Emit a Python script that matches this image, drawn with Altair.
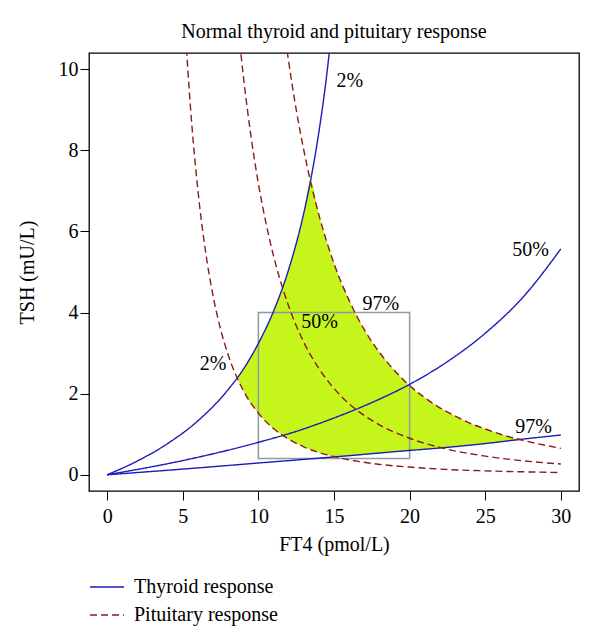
import altair as alt
import pandas as pd

# ---- data ----
# Thyroid response curves (blue, solid)
thy2_x = [0, 2, 4, 6, 8, 9, 10, 11, 12, 13, 13.5, 14, 14.5, 14.8]
thy2_y = [0, 0.34, 0.77, 1.33, 2.1, 2.6, 3.24, 4.03, 5.06, 6.45, 7.35, 8.45, 9.8, 10.8]
thy50_x = [0, 5, 10, 12.5, 15, 17.5, 20, 22.5, 25, 27.5, 30]
thy50_y = [0, 0.35, 0.8, 1.07, 1.4, 1.78, 2.23, 2.79, 3.49, 4.38, 5.57]
thy97_x = [0, 5, 10, 15, 20, 22, 25, 27.5, 30]
thy97_y = [0, 0.14, 0.29, 0.44, 0.6, 0.66, 0.77, 0.88, 0.98]

# Pituitary response curves (dark red, dashed)
pit2_x = [5.2, 5.5, 6, 6.5, 7, 7.5, 8, 9, 10, 11, 12, 13, 14, 15, 17.5, 20, 22.5, 25, 27.5, 30]
pit2_y = [10.78, 9.11, 7.02, 5.52, 4.42, 3.59, 2.96, 2.08, 1.52, 1.14, 0.88, 0.69, 0.55, 0.45,
          0.28, 0.19, 0.13, 0.097, 0.073, 0.056]
pit50_x = [8.7, 9, 9.5, 10, 10.5, 11, 12, 13, 14, 15, 16, 17.5, 20, 22.5, 25, 27.5, 30]
pit50_y = [10.91, 9.85, 8.38, 7.18, 6.21, 5.4, 4.16, 3.27, 2.62, 2.13, 1.75, 1.34, 0.9, 0.63,
           0.46, 0.345, 0.266]
pit97_x = [11.7, 12, 12.5, 13, 13.5, 14, 15, 16, 17, 18, 19, 20, 21, 22, 23, 24, 25, 26, 27.5, 30]
pit97_y = [10.99, 10.19, 9.01, 8.01, 7.15, 6.41, 5.21, 4.3, 3.58, 3.02, 2.57, 2.2, 1.9, 1.65,
           1.45, 1.27, 1.13, 1.0, 0.85, 0.65]

# Normal (yellow) region
band_x = [8.62, 9, 9.5, 10, 10.5, 11, 11.5, 12, 12.5, 13, 13.45, 14, 14.5, 15, 16, 17, 18, 19,
          20, 21, 22, 23, 24, 25, 26, 27.2]
band_lo = [2.38, 2.08, 1.77, 1.52, 1.31, 1.14, 1.0, 0.877, 0.776, 0.69, 0.623, 0.553, 0.497,
           0.445, 0.47, 0.5, 0.54, 0.57, 0.6, 0.63, 0.66, 0.7, 0.73, 0.77, 0.81, 0.87]
band_hi = [2.38, 2.61, 2.91, 3.24, 3.61, 4.03, 4.51, 5.06, 5.7, 6.45, 7.25, 6.41, 5.77, 5.21,
           4.3, 3.58, 3.02, 2.57, 2.2, 1.9, 1.653, 1.447, 1.273, 1.126, 1.001, 0.875]

# Reference range box
box_x = [10, 20]
box_y = [0.4, 4.0]

# Percentile labels
lab_text = ["2%", "2%", "50%", "97%", "50%", "97%"]
lab_x = [16.05, 7.0, 14.05, 18.1, 28.0, 28.2]
lab_y = [9.7, 2.72, 3.77, 4.22, 5.55, 1.19]

groups = ["Thyroid response", "Pituitary response"]

# ---- build tables ----
rows = []
for cname, grp, xs, ys in [
    ("t2", groups[0], thy2_x, thy2_y),
    ("t50", groups[0], thy50_x, thy50_y),
    ("t97", groups[0], thy97_x, thy97_y),
    ("p2", groups[1], pit2_x, pit2_y),
    ("p50", groups[1], pit50_x, pit50_y),
    ("p97", groups[1], pit97_x, pit97_y),
]:
    for x, y in zip(xs, ys):
        rows.append({"curve": cname, "group": grp, "x": x, "y": y})
lines_df = pd.DataFrame(rows)
band_df = pd.DataFrame({"x": band_x, "lo": band_lo, "hi": band_hi})
box_df = pd.DataFrame({"x0": [box_x[0]], "x1": [box_x[1]], "y0": [box_y[0]], "y1": [box_y[1]]})
lab_df = pd.DataFrame({"t": lab_text, "x": lab_x, "y": lab_y})

FONT = "Liberation Serif"
BLUE = "#1c1cb8"
RED = "#8b1a1a"

xscale = alt.Scale(domain=[-1.2, 31.2], nice=False, zero=False)
yscale = alt.Scale(domain=[-0.4, 10.4], nice=False, zero=False)

xaxis = alt.Axis(values=[0, 5, 10, 15, 20, 25, 30], title="FT4 (pmol/L)", grid=False, domain=False,
                 tickColor="black", tickSize=9, tickWidth=1, labelFont=FONT, labelFontSize=20,
                 labelColor="black", labelPadding=6, titleFont=FONT, titleFontSize=20,
                 titleFontWeight="normal", titleColor="black", titleY=53, titleBaseline="middle")
yaxis = alt.Axis(values=[0, 2, 4, 6, 8, 10], title="TSH (mU/L)", grid=False, domain=False,
                 tickColor="black", tickSize=9, tickWidth=1, labelFont=FONT, labelFontSize=20,
                 labelColor="black", labelPadding=2, titleFont=FONT, titleFontSize=20,
                 titleFontWeight="normal", titleColor="black", titleX=-62, titleY=219,
                 titleBaseline="middle", titleAngle=-90)

band = alt.Chart(band_df).mark_area(color="#c6f51c", opacity=1, interpolate="monotone").encode(
    x=alt.X("x:Q", scale=xscale, axis=xaxis),
    y=alt.Y("lo:Q", scale=yscale, axis=yaxis),
    y2="hi:Q",
)

box = alt.Chart(box_df).mark_rect(fillOpacity=0, stroke="#8c9ca2", strokeWidth=1.5).encode(
    x="x0:Q", x2="x1:Q", y="y0:Q", y2="y1:Q"
)

leg = alt.Legend(title=None, orient="none", legendX=0, legendY=516,
                 symbolType="stroke", symbolSize=1150, symbolStrokeWidth=1.4,
                 labelFont=FONT, labelFontSize=20, labelColor="black",
                 labelOffset=9, rowPadding=-7, padding=0)

lines = alt.Chart(lines_df).mark_line(clip=True, interpolate="monotone", strokeWidth=1.4).encode(
    x="x:Q",
    y="y:Q",
    detail="curve:N",
    color=alt.Color("group:N", scale=alt.Scale(domain=groups, range=[BLUE, RED]), legend=leg),
    strokeDash=alt.StrokeDash("group:N", scale=alt.Scale(domain=groups, range=[[1, 0], [7, 4]]),
                              legend=leg),
)

labels = alt.Chart(lab_df).mark_text(font=FONT, fontSize=20, align="center", baseline="middle",
                                     color="black").encode(x="x:Q", y="y:Q", text="t:N")

chart = alt.layer(band, box, lines, labels).properties(
    width=490,
    height=438,
    padding={"left": 81, "top": 45, "right": 10, "bottom": 140},
    autosize=alt.AutoSizeParams(type="none"),
    title=alt.TitleParams("Normal thyroid and pituitary response", font=FONT, fontSize=20,
                          fontWeight="normal", anchor="middle", offset=11, color="black"),
).configure_view(stroke="black", strokeWidth=1.3)

chart.save("out.html", embed_options={"renderer": "svg", "actions": False})
